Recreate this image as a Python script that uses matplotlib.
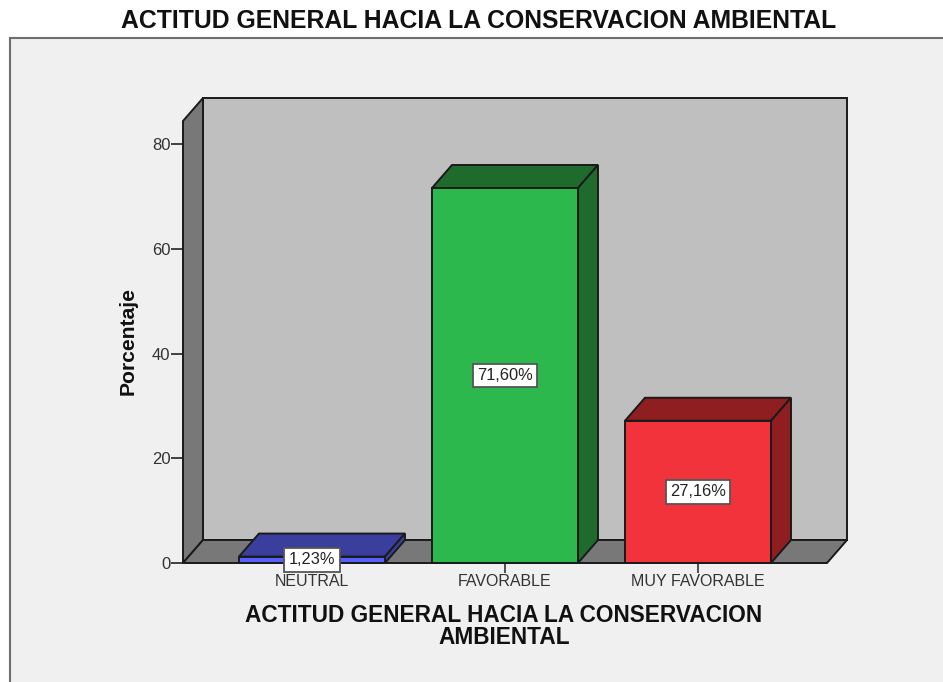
import matplotlib
matplotlib.use("Agg")
import matplotlib.pyplot as plt
from matplotlib.patches import Polygon, Rectangle

plt.rcParams['font.family'] = ['Liberation Sans', 'DejaVu Sans']

categories = ["NEUTRAL", "FAVORABLE", "MUY FAVORABLE"]
values = [1.23, 71.60, 27.16]
labels = ["1,23%", "71,60%", "27,16%"]
yticks = [0, 20, 40, 60, 80]
title = "ACTITUD GENERAL HACIA LA CONSERVACION AMBIENTAL"
xlabel = "ACTITUD GENERAL HACIA LA CONSERVACION\nAMBIENTAL"
ylabel = "Porcentaje"
front = ["#5560FF", "#2DB84D", "#F2333B"]
dark = ["#3A3F9E", "#1F6B2E", "#8F1E20"]

W, H = 943, 682
fig = plt.figure(figsize=(W / 100, H / 100), dpi=100, facecolor="white")

# outer panel
fig.add_artist(Rectangle((10 / W, -0.01), 1.0, 1 - 38 / H + 0.01, transform=fig.transFigure,
                         facecolor="#F0F0F0", edgecolor="#6E6E6E", linewidth=1.5, zorder=-5))

left, right, top, bottom = 183, 827, 121, 563
ax = fig.add_axes([left / W, 1 - bottom / H, (right - left) / W, (bottom - top) / H])
ax.patch.set_alpha(0)
unit_x = 193.0
unit_y = (563 - 144) / 80
ax.set_xlim((left - 312) / unit_x, (right - 312) / unit_x)
ax.set_ylim(0, (bottom - top) / unit_y)
for s in ax.spines.values():
    s.set_visible(False)

dx = 20 / unit_x
dy = 23 / unit_y
x0, x1 = ax.get_xlim()
y0, y1 = ax.get_ylim()
edge = dict(edgecolor="#1A1A1A", linewidth=1.4, joinstyle="miter", clip_on=False)

ax.add_patch(Polygon([(x0 + dx, y0 + dy), (x1 + dx, y0 + dy), (x1 + dx, y1 + dy), (x0 + dx, y1 + dy)],
                     facecolor="#BFBFBF", zorder=1, **edge))
ax.add_patch(Polygon([(x0, y0), (x0 + dx, y0 + dy), (x0 + dx, y1 + dy), (x0, y1)],
                     facecolor="#787878", zorder=2, **edge))
ax.add_patch(Polygon([(x0, y0), (x1, y0), (x1 + dx, y0 + dy), (x0 + dx, y0 + dy)],
                     facecolor="#787878", zorder=2, **edge))

w = 146 / unit_x
for i, (v, f, d, lab) in enumerate(zip(values, front, dark, labels)):
    a, b = i - w / 2, i + w / 2
    ax.add_patch(Polygon([(a, v), (b, v), (b + dx, v + dy), (a + dx, v + dy)], facecolor=d, zorder=3, **edge))
    ax.add_patch(Polygon([(b, 0), (b + dx, dy), (b + dx, v + dy), (b, v)], facecolor=d, zorder=3, **edge))
    ax.add_patch(Polygon([(a, 0), (b, 0), (b, v), (a, v)], facecolor=f, zorder=4, **edge))
    ax.text(i, v / 2, lab, ha="center", va="center", fontsize=11.8, color="#222222", zorder=6,
            bbox=dict(boxstyle="square,pad=0.27", facecolor="white", edgecolor="#555555", linewidth=1.3))

ax.set_xticks(range(len(categories)))
ax.set_xticklabels(categories, fontsize=11.5, color="#333333")
ax.set_yticks(yticks)
ax.tick_params(axis="y", length=8.6, width=1.2, color="#222222", labelsize=12, labelcolor="#333333", pad=0.5)
ax.tick_params(axis="x", length=7, width=1.2, color="#333333", pad=1)

fig.text(479 / W, 1 - 21 / H, title, ha="center", va="center", fontsize=17.8, fontweight="bold", color="#111111")
fig.text(504 / W, 1 - 626.5 / H, xlabel, ha="center", va="center", fontsize=16.3, fontweight="bold",
         color="#111111", linespacing=0.9)
fig.text(128 / W, 1 - 341 / H, ylabel, ha="center", va="center", rotation=90, fontsize=15.2,
         fontweight="bold", color="#111111")

fig.savefig("out.png", dpi=100, facecolor="white")
